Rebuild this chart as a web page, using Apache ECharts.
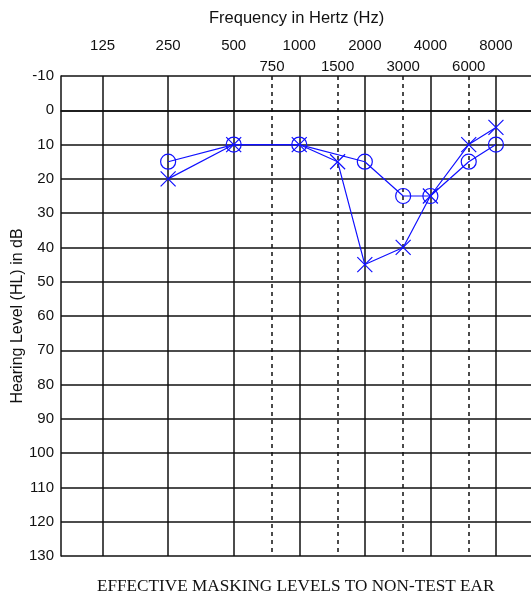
<!DOCTYPE html>
<html>
<head>
<meta charset="utf-8">
<title>Audiogram</title>
<script src="https://cdn.jsdelivr.net/npm/echarts@6/dist/echarts.min.js"></script>
<style>
  html, body { margin: 0; padding: 0; background: #fff; }
  #main { width: 531px; height: 591px; }
</style>
</head>
<body>
<div id="main"></div>
<script>
// frequencies on the top axis (Hz)
const octaveFreqs = [125, 250, 500, 1000, 2000, 4000, 8000];
const midFreqs = [750, 1500, 3000, 6000];

// hearing level axis (dB HL)
const dbMin = -10;
const dbMax = 130;
const dbStep = 10;

// O series
const circleFreqs = [250, 500, 1000, 2000, 3000, 4000, 6000, 8000];
const circleDb = [15, 10, 10, 15, 25, 25, 15, 10];

// X series
const crossFreqs = [250, 500, 1000, 1500, 2000, 3000, 4000, 6000, 8000];
const crossDb = [20, 10, 10, 15, 45, 40, 25, 10, 5];

const blue = '#1010ff';
const gridColor = '#111';

// frequency axis is octave based, so work in log2(Hz)
const lg = Math.log2;
const toPairs = (fs, ds) => fs.map((f, i) => [lg(f), ds[i]]);
const hzLabel = v => String(Math.round(Math.pow(2, v)));

const xMin = lg(125) - 0.634;
const xMax = lg(8000) + 0.672;

const chart = echarts.init(document.getElementById('main'));

const option = {
    animation: false,
    backgroundColor: '#fff',
    title: [
        {
            text: 'Frequency in Hertz (Hz)',
            left: 209,
            top: 10,
            padding: 0,
            textStyle: { fontFamily: 'Liberation Sans', fontSize: 16.5, fontWeight: 'normal', color: '#111' }
        },
        {
            text: 'EFFECTIVE MASKING LEVELS TO NON-TEST EAR',
            left: 97,
            top: 578,
            padding: 0,
            textStyle: { fontFamily: 'Liberation Serif', fontSize: 17.2, fontWeight: 'normal', color: '#111' }
        }
    ],
    grid: {
        left: 61,
        top: 76,
        width: 479,
        height: 480,
        outerBoundsMode: 'none'
    },
    xAxis: [
        {
            type: 'value',
            position: 'top',
            min: xMin,
            max: xMax,
            axisLine: { show: true, lineStyle: { color: gridColor, width: 1.5 } },
            axisTick: { show: false, customValues: octaveFreqs.map(lg) },
            axisLabel: {
                customValues: octaveFreqs.map(lg),
                formatter: hzLabel,
                margin: 23,
                fontFamily: 'Liberation Sans',
                fontSize: 15,
                color: '#111'
            },
            splitLine: { show: true, lineStyle: { color: gridColor, width: 1.5 } }
        },
        {
            type: 'value',
            position: 'top',
            min: xMin,
            max: xMax,
            axisLine: { show: false },
            axisTick: { show: false, customValues: midFreqs.map(lg) },
            axisLabel: {
                customValues: midFreqs.map(lg),
                formatter: hzLabel,
                margin: 2,
                fontFamily: 'Liberation Sans',
                fontSize: 15,
                color: '#111'
            },
            splitLine: { show: true, lineStyle: { color: gridColor, width: 1.5, type: [4, 4] } }
        }
    ],
    yAxis: {
        type: 'value',
        inverse: true,
        min: dbMin,
        max: dbMax,
        interval: dbStep,
        name: 'Hearing Level (HL) in dB',
        nameLocation: 'middle',
        nameRotate: 90,
        nameGap: 35,
        nameMoveOverlap: false,
        nameTextStyle: { fontFamily: 'Liberation Sans', fontSize: 16, color: '#111' },
        axisLine: { show: true, lineStyle: { color: gridColor, width: 1.5 } },
        axisTick: { show: false },
        axisLabel: { margin: 7, fontFamily: 'Liberation Sans', fontSize: 15, color: '#111' },
        splitLine: { show: true, lineStyle: { color: gridColor, width: 1.5 } }
    },
    series: [
        {
            name: 'O',
            type: 'line',
            xAxisIndex: 0,
            data: toPairs(circleFreqs, circleDb),
            symbol: 'circle',
            symbolSize: 15,
            lineStyle: { color: blue, width: 1.2 },
            itemStyle: { color: 'rgba(0,0,0,0)', borderColor: blue, borderWidth: 1.2 },
            z: 5
        },
        {
            name: 'X',
            type: 'line',
            xAxisIndex: 0,
            data: toPairs(crossFreqs, crossDb),
            symbol: 'path://M0 0L10 10M10 0L0 10',
            symbolSize: 15,
            lineStyle: { color: blue, width: 1.2 },
            itemStyle: { color: 'rgba(0,0,0,0)', borderColor: blue, borderWidth: 1.2 },
            z: 5
        }
    ]
};

chart.setOption(option);
window.onresize = function () {
    chart.resize();
};
</script>
</body>
</html>
